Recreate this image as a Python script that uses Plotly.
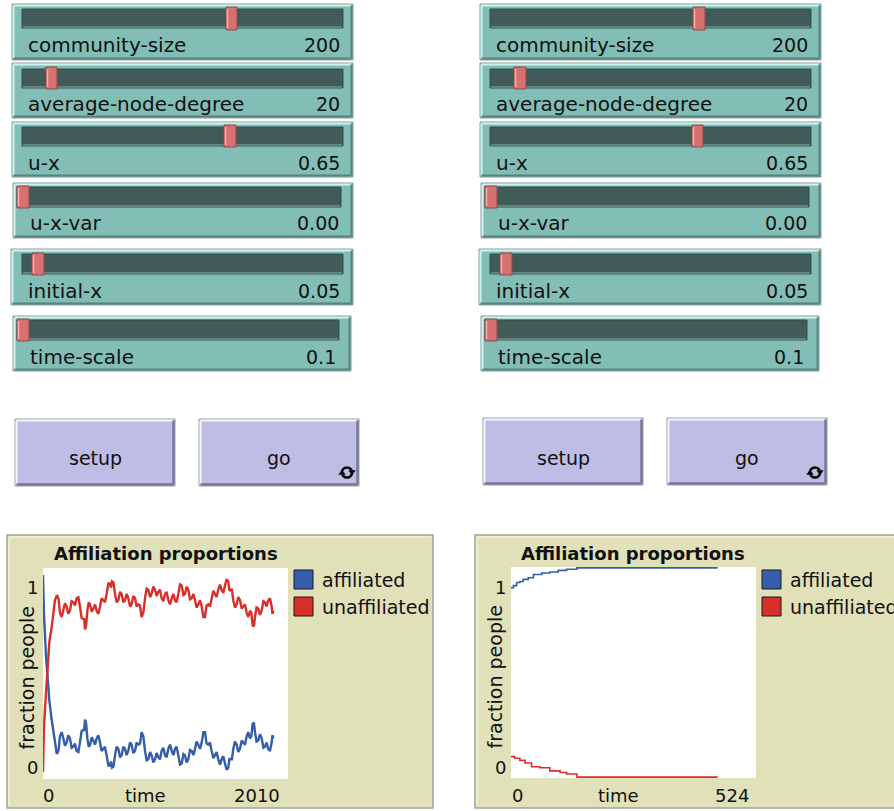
import plotly.graph_objects as go

# ---------------- data ----------------
SLIDER_NAMES = ["community-size", "average-node-degree", "u-x", "u-x-var", "initial-x", "time-scale"]
SLIDER_VALUES = ["200", "20", "0.65", "0.00", "0.05", "0.1"]
BUTTON_LABELS = ["setup", "go"]

PLOT_TITLE = "Affiliation proportions"
SERIES_NAMES = ["affiliated", "unaffiliated"]
X_LABEL = "time"
Y_LABEL = "fraction people"

# left run (time 0..2010)
LEFT_XMAX = 2010
LEFT_T = [0, 8, 25, 35, 52, 71, 98, 112,
          118, 128, 139, 153, 167, 180, 194, 207, 221, 235, 249, 262, 276, 290, 303, 317,
          331, 338, 345, 354, 364, 375, 386, 400, 413, 427, 440, 454, 468, 481, 495, 508,
          522, 536, 550, 558, 566, 578, 591, 604, 618, 632, 645, 659, 673, 686, 700, 714,
          727, 741, 755, 768, 782, 796, 809, 823, 837, 850, 864, 878, 891, 905, 919, 932,
          946, 960, 973, 987, 1001, 1014, 1028, 1042, 1056, 1070, 1083, 1096, 1110, 1124, 1138, 1152,
          1165, 1178, 1192, 1206, 1220, 1234, 1247, 1260, 1274, 1288, 1302, 1316, 1329, 1342, 1356, 1370,
          1384, 1398, 1411, 1424, 1438, 1452, 1465, 1479, 1493, 1506, 1520, 1530, 1539, 1550, 1561, 1575,
          1589, 1602, 1616, 1630, 1643, 1657, 1671, 1684, 1698, 1709, 1720, 1730, 1739, 1752, 1766, 1780,
          1794, 1808, 1821, 1834, 1848, 1862, 1876, 1883, 1890]
LEFT_UNAFF = [0.03, 0.25, 0.41, 0.52, 0.65, 0.72, 0.85, 0.87,
              0.87, 0.855, 0.79, 0.77, 0.80, 0.835, 0.82, 0.785, 0.80, 0.845, 0.84, 0.825, 0.86, 0.865, 0.82, 0.765,
              0.76, 0.76, 0.71, 0.73, 0.80, 0.84, 0.83, 0.795, 0.81, 0.83, 0.80, 0.785, 0.82, 0.86, 0.85, 0.84,
              0.88, 0.93, 0.93, 0.91, 0.94, 0.935, 0.88, 0.84, 0.85, 0.89, 0.88, 0.84, 0.85, 0.88, 0.86, 0.82,
              0.83, 0.87, 0.86, 0.82, 0.83, 0.825, 0.77, 0.79, 0.86, 0.905, 0.90, 0.865, 0.88, 0.915, 0.90, 0.87,
              0.89, 0.90, 0.86, 0.845, 0.88, 0.89, 0.85, 0.83, 0.86, 0.88, 0.85, 0.84, 0.88, 0.925, 0.92, 0.875,
              0.88, 0.915, 0.90, 0.855, 0.86, 0.88, 0.85, 0.815, 0.83, 0.85, 0.82, 0.77, 0.77, 0.825, 0.83, 0.82,
              0.86, 0.895, 0.88, 0.865, 0.90, 0.925, 0.90, 0.885, 0.92, 0.95, 0.94, 0.895, 0.90, 0.90, 0.85, 0.815,
              0.83, 0.865, 0.85, 0.81, 0.82, 0.83, 0.79, 0.77, 0.80, 0.79, 0.73, 0.725, 0.77, 0.815, 0.81, 0.78,
              0.80, 0.845, 0.84, 0.82, 0.85, 0.86, 0.82, 0.785, 0.80]
LEFT_AFF = [0.97, 0.78, 0.58, 0.48, 0.37, 0.28, 0.16, 0.12,
            0.12, 0.135, 0.20, 0.22, 0.19, 0.155, 0.17, 0.205, 0.19, 0.145, 0.15, 0.165, 0.13, 0.125, 0.17, 0.225,
            0.23, 0.23, 0.28, 0.26, 0.19, 0.15, 0.16, 0.195, 0.18, 0.16, 0.19, 0.205, 0.17, 0.13, 0.14, 0.15,
            0.11, 0.06, 0.06, 0.08, 0.05, 0.055, 0.11, 0.15, 0.14, 0.10, 0.11, 0.15, 0.14, 0.11, 0.13, 0.17,
            0.16, 0.12, 0.13, 0.17, 0.16, 0.165, 0.22, 0.20, 0.13, 0.085, 0.09, 0.125, 0.11, 0.075, 0.09, 0.12,
            0.10, 0.09, 0.13, 0.145, 0.11, 0.10, 0.14, 0.16, 0.13, 0.11, 0.14, 0.15, 0.11, 0.065, 0.07, 0.115,
            0.11, 0.075, 0.09, 0.135, 0.13, 0.11, 0.14, 0.175, 0.16, 0.14, 0.17, 0.22, 0.22, 0.165, 0.16, 0.17,
            0.13, 0.095, 0.11, 0.125, 0.09, 0.065, 0.09, 0.105, 0.07, 0.04, 0.05, 0.095, 0.09, 0.09, 0.14, 0.175,
            0.16, 0.125, 0.14, 0.18, 0.17, 0.16, 0.20, 0.22, 0.19, 0.20, 0.26, 0.265, 0.22, 0.175, 0.18, 0.21,
            0.19, 0.145, 0.15, 0.17, 0.14, 0.13, 0.17, 0.205, 0.19]

# right run (time 0..524)
RIGHT_XMAX = 524
RIGHT_T_AFF = [0, 5, 12, 19, 26, 37, 48, 66, 83, 101, 119, 141, 442]
RIGHT_AFF = [0.905, 0.915, 0.93, 0.935, 0.945, 0.953, 0.968, 0.975, 0.98, 0.988, 0.993, 1.0, 1.0]
RIGHT_T_UNAFF = [0, 8, 19, 30, 44, 62, 83, 105, 119, 141, 442]
RIGHT_UNAFF = [0.098, 0.09, 0.08, 0.068, 0.05, 0.045, 0.03, 0.022, 0.015, 0.0, 0.0]

# ---------------- helpers ----------------
W, H = 894, 811
FONT = "DejaVu Sans"
BLUE = "#345DAA"
RED = "#D7302A"
BTN = "#BDBDE6"


def px(x):
    return x / W


def py(y):
    return 1 - y / H


shapes = []
annotations = []


def rect(x0, y0, x1, y1, fill, line=None, lw=1):
    shapes.append(dict(type="rect", xref="paper", yref="paper", layer="below",
                       x0=px(x0), x1=px(x1), y0=py(y1), y1=py(y0),
                       fillcolor=fill, line=dict(color=line or fill, width=lw if line else 0)))


def seg(x0, y0, x1, y1, color, lw=1):
    shapes.append(dict(type="line", xref="paper", yref="paper", layer="below",
                       x0=px(x0), x1=px(x1), y0=py(y0), y1=py(y1),
                       line=dict(color=color, width=lw)))


def poly(pts, color):
    d = "M " + " L ".join("%f,%f" % (px(a), py(b)) for a, b in pts) + " Z"
    shapes.append(dict(type="path", xref="paper", yref="paper", layer="below", path=d,
                       fillcolor=color, line=dict(color=color, width=0.5)))


def text(x, y, s, size=19, xanchor="left", bold=False, angle=0, color="#111111"):
    annotations.append(dict(xref="paper", yref="paper", x=px(x), y=py(y), text=("<b>%s</b>" % s) if bold else s,
                            showarrow=False, xanchor=xanchor, yanchor="middle", textangle=angle,
                            font=dict(family=FONT, size=size, color=color)))


def slider(box, track, handle, label, value, lx, vx, ly):
    bx0, by0, bx1, by1 = box
    rect(bx0, by0, bx1, by1, "#82BEB6", "#8E9A98", 1)
    seg(bx0 + 1.5, by0 + 1.5, bx1 - 1.5, by0 + 1.5, "#CFF3EF", 2)
    seg(bx0 + 1.5, by0 + 1.5, bx0 + 1.5, by1 - 1.5, "#CFF3EF", 2)
    seg(bx0 + 1.5, by1 - 1.5, bx1 - 1.5, by1 - 1.5, "#55847E", 2)
    seg(bx1 - 1.5, by0 + 1.5, bx1 - 1.5, by1 - 1.5, "#55847E", 2)
    tx0, ty0, tx1, ty1 = track
    rect(tx0, ty0, tx1, ty1, "#405B58", "#33504C", 1)
    seg(tx0 + 1, ty1 - 1, tx1 - 1, ty1 - 1, "#6E8F8B", 1.5)
    hx0, hx1, hy0, hy1 = handle
    rect(hx0, hy0, hx1, hy1, "#D6716F", "#8F4B49", 1)
    seg(hx0 + 1.5, hy0 + 2, hx0 + 1.5, hy1 - 2, "#F4B0AE", 1.5)
    text(lx, ly, label, size=20)
    text(vx, ly, value, size=19, xanchor="right")


def forever_icon(cx, cy):
    r = 5
    shapes.append(dict(type="circle", xref="paper", yref="paper", layer="below",
                       x0=px(cx - r), x1=px(cx + r), y0=py(cy + r), y1=py(cy - r),
                       fillcolor="rgba(0,0,0,0)", line=dict(color="#000000", width=2.6)))
    rect(cx - r - 2.5, cy - 1.2, cx - r + 2.5, cy + 2.2, BTN)
    rect(cx + r - 2.5, cy - 2.2, cx + r + 2.5, cy + 1.2, BTN)
    poly([(cx + r - 3.2, cy - 2.0), (cx + r + 3.2, cy - 2.0), (cx + r, cy + 2.6)], "#000000")
    poly([(cx - r - 3.2, cy + 2.0), (cx - r + 3.2, cy + 2.0), (cx - r, cy - 2.6)], "#000000")


def button(x0, y0, x1, y1, label, forever=False):
    rect(x0, y0, x1, y1, BTN, "#9C9CA8", 1)
    seg(x0 + 1.5, y0 + 1.5, x1 - 1.5, y0 + 1.5, "#F4F4FF", 2)
    seg(x0 + 1.5, y0 + 1.5, x0 + 1.5, y1 - 1.5, "#F4F4FF", 2)
    seg(x0 + 1.5, y1 - 1.5, x1 - 1.5, y1 - 1.5, "#77779A", 2.5)
    seg(x1 - 1.5, y0 + 1.5, x1 - 1.5, y1 - 1.5, "#77779A", 2.5)
    text((x0 + x1) / 2, 458, label, xanchor="center")
    if forever:
        forever_icon(x1 - 12, 472.5)


# ---------------- sliders ----------------
LEFT_SLIDERS = [
    ((12, 4, 353, 60), (22, 9, 343, 28), (226, 237, 7, 30), 26, 342, 45),
    ((12, 63, 353, 118), (22, 69, 343, 88), (46, 57, 67, 89), 26, 342, 104),
    ((12, 122, 353, 177), (22, 127, 343, 146), (224, 236, 125, 147), 26, 342, 163),
    ((13, 183, 353, 238), (17, 187, 341, 207), (17, 29, 186, 208), 28, 341, 223),
    ((11, 249, 353, 305), (22, 254, 343, 274), (32, 44, 253, 275), 26, 342, 291),
    ((13, 316, 351, 371), (17, 320, 339, 340), (17, 29, 319, 341), 28, 338, 357),
]
RIGHT_HANDLE_X = [(693, 705), (514, 526), (692, 703), (485, 497), (500, 512), (485, 497)]
SH = 468
for i, (box, track, handle, lx, vx, ly) in enumerate(LEFT_SLIDERS):
    slider(box, track, handle, SLIDER_NAMES[i], SLIDER_VALUES[i], lx, vx, ly)
    rb = (box[0] + SH, box[1], box[2] + SH, box[3])
    rt = (track[0] + SH, track[1], track[2] + SH, track[3])
    rh = (RIGHT_HANDLE_X[i][0], RIGHT_HANDLE_X[i][1], handle[2], handle[3])
    slider(rb, rt, rh, SLIDER_NAMES[i], SLIDER_VALUES[i], lx + SH, vx + SH, ly)

# ---------------- buttons ----------------
button(15, 419, 175, 486, BUTTON_LABELS[0])
button(199, 419, 359, 486, BUTTON_LABELS[1], forever=True)
button(483, 418, 643, 485, BUTTON_LABELS[0])
button(667, 418, 827, 485, BUTTON_LABELS[1], forever=True)

# ---------------- plot panels ----------------
PANELS = [
    dict(panel=(7, 535, 433, 808), area=(43, 568, 288, 779), title_x=166,
         leg_sq=294, leg_tx=320, ylab_x=26, ytick_x=32, x0_x=48, time_x=145, xmax_x=257,
         xmax=LEFT_XMAX),
    dict(panel=(475, 535, 905, 808), area=(511, 567, 756, 778), title_x=633,
         leg_sq=762, leg_tx=788, ylab_x=494, ytick_x=500, x0_x=517, time_x=618, xmax_x=732,
         xmax=RIGHT_XMAX),
]
for p in PANELS:
    x0, y0, x1, y1 = p["panel"]
    rect(x0, y0, x1, y1, "#E0E0B9", "#A2A2A2", 1.5)
    seg(x0 + 2, y0 + 2, x1 - 2, y0 + 2, "#F2F2DC", 1.5)
    seg(x0 + 2, y0 + 2, x0 + 2, y1 - 2, "#F2F2DC", 1.5)
    ax0, ay0, ax1, ay1 = p["area"]
    rect(ax0, ay0, ax1, ay1, "#FFFFFF")
    text(p["title_x"], 553, PLOT_TITLE, size=18, xanchor="center", bold=True)
    for k, (col, yy) in enumerate([(BLUE, 570), (RED, 597)]):
        rect(p["leg_sq"], yy, p["leg_sq"] + 19, yy + 19, col, "#1A1A1A", 1)
        text(p["leg_tx"], yy + 10, SERIES_NAMES[k])
    text(p["ylab_x"], (ay0 + ay1) / 2 + 5, Y_LABEL, xanchor="center", angle=-90)
    text(p["ytick_x"], 587, "1", size=18, xanchor="center")
    text(p["ytick_x"], 767, "0", size=18, xanchor="center")
    text(p["x0_x"], 795, "0", size=18, xanchor="center")
    text(p["time_x"], 795, X_LABEL, size=18, xanchor="center")
    text(p["xmax_x"], 795, str(p["xmax"]), size=18, xanchor="center")

# ---------------- traces ----------------
fig = go.Figure()
fig.add_trace(go.Scatter(x=LEFT_T, y=LEFT_AFF, mode="lines", name=SERIES_NAMES[0],
                         line=dict(color=BLUE, width=2.4), xaxis="x", yaxis="y", showlegend=False))
fig.add_trace(go.Scatter(x=LEFT_T, y=LEFT_UNAFF, mode="lines", name=SERIES_NAMES[1],
                         line=dict(color=RED, width=2.4), xaxis="x", yaxis="y", showlegend=False))
fig.add_trace(go.Scatter(x=RIGHT_T_AFF, y=RIGHT_AFF, mode="lines", name=SERIES_NAMES[0],
                         line=dict(color=BLUE, width=1.6, shape="hv"), xaxis="x2", yaxis="y2",
                         showlegend=False))
fig.add_trace(go.Scatter(x=RIGHT_T_UNAFF, y=RIGHT_UNAFF, mode="lines", name=SERIES_NAMES[1],
                         line=dict(color=RED, width=1.6, shape="hv"), xaxis="x2", yaxis="y2",
                         showlegend=False))

axis_common = dict(showgrid=False, zeroline=False, showline=False, showticklabels=False,
                   ticks="", fixedrange=True)
la, ra = PANELS[0]["area"], PANELS[1]["area"]
fig.update_layout(
    width=W, height=H, margin=dict(l=0, r=0, t=0, b=0),
    paper_bgcolor="#FFFFFF", plot_bgcolor="rgba(0,0,0,0)",
    xaxis=dict(domain=[px(la[0]), px(la[2])], range=[0, LEFT_XMAX], anchor="y", **axis_common),
    yaxis=dict(domain=[py(la[3]), py(la[1])], range=[-0.004, 1.004], anchor="x", **axis_common),
    xaxis2=dict(domain=[px(ra[0]), px(ra[2])], range=[0, RIGHT_XMAX], anchor="y2", **axis_common),
    yaxis2=dict(domain=[py(ra[3]), py(ra[1])], range=[-0.004, 1.004], anchor="x2", **axis_common),
    shapes=shapes, annotations=annotations, showlegend=False,
)
fig.write_html("out.html", config={"displayModeBar": False},
               post_script="document.body.style.margin='0';document.body.style.overflow='hidden';")
